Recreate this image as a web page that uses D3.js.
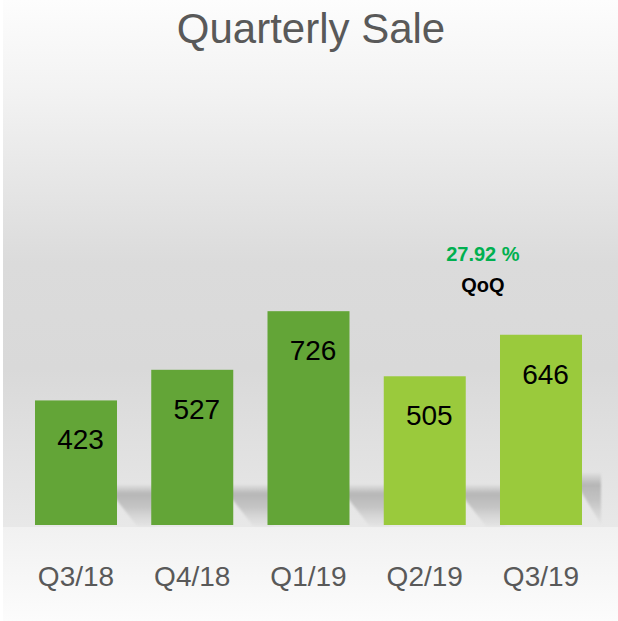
<!DOCTYPE html>
<html>
<head>
<meta charset="utf-8">
<script src="https://cdn.jsdelivr.net/npm/d3@7"></script>
<style>
  html, body { margin: 0; padding: 0; background: #ffffff; }
  svg { display: block; }
</style>
</head>
<body>
<svg id="chart" width="618" height="621"></svg>
<script>
const categories = ["Q3/18", "Q4/18", "Q1/19", "Q2/19", "Q3/19"];
const sales = [423, 527, 726, 505, 646];
const barGroup = ["past", "past", "past", "recent", "recent"];
const chartTitle = "Quarterly Sale";
const growthText = ["27.92 %", "QoQ"];

const W = 618, H = 621;
const svg = d3.select("#chart");
const defs = svg.append("defs");

// background gradients
const bg = defs.append("linearGradient").attr("id", "bg").attr("x1", 0).attr("y1", 0).attr("x2", 0).attr("y2", 1);
bg.append("stop").attr("offset", "0%").attr("stop-color", "#fdfdfd");
bg.append("stop").attr("offset", "18%").attr("stop-color", "#f2f2f2");
bg.append("stop").attr("offset", "50%").attr("stop-color", "#dbdbdb");
bg.append("stop").attr("offset", "70%").attr("stop-color", "#d9d9d9");
bg.append("stop").attr("offset", "100%").attr("stop-color", "#e8e8e8");

const bg2 = defs.append("linearGradient").attr("id", "bg2").attr("x1", 0).attr("y1", 0).attr("x2", 0).attr("y2", 1);
bg2.append("stop").attr("offset", "0%").attr("stop-color", "#f1f1f1");
bg2.append("stop").attr("offset", "100%").attr("stop-color", "#fcfcfc");

const sh = defs.append("linearGradient").attr("id", "sh")
  .attr("gradientUnits", "objectBoundingBox")
  .attr("x1", 0).attr("y1", 0).attr("x2", 0).attr("y2", 1);
sh.append("stop").attr("offset", "0%").attr("stop-color", "#b4b4b4").attr("stop-opacity", 0.1);
sh.append("stop").attr("offset", "22%").attr("stop-color", "#b4b4b4").attr("stop-opacity", 0.95);
sh.append("stop").attr("offset", "55%").attr("stop-color", "#bababa").attr("stop-opacity", 0.75);
sh.append("stop").attr("offset", "100%").attr("stop-color", "#d0d0d0").attr("stop-opacity", 0.2);

defs.append("filter").attr("id", "blur").attr("x", "-10%").attr("y", "-20%").attr("width", "120%").attr("height", "140%")
  .append("feGaussianBlur").attr("stdDeviation", 1.2);

const baseY = 525;

svg.append("rect").attr("x", 3).attr("y", 0).attr("width", W - 3).attr("height", baseY + 2).attr("fill", "url(#bg)");
svg.append("rect").attr("x", 3).attr("y", baseY + 2).attr("width", W - 3).attr("height", H - baseY - 2).attr("fill", "url(#bg2)");

// scales
const x = d3.scaleBand().domain(categories).range([35, 582]).paddingInner(0.2946).paddingOuter(0);
const y = d3.scaleLinear().domain([0, 1000]).range([baseY, baseY - 294.5]);

const data = categories.map((c, i) => ({ cat: c, value: sales[i], group: barGroup[i], last: i === categories.length - 1 }));
const color = d3.scaleOrdinal().domain(["past", "recent"]).range(["#63a537", "#9aca3c"]);

// floor shadows (cast to the right of each bar)
svg.append("g").selectAll("path").data(data).join("path")
  .attr("d", d => {
    const xr = x(d.cat) + x.bandwidth();
    const ext = d.last ? 19 : 40;
    const top = baseY - (d.last ? 52 : 40);
    return `M${xr - 12},${top} L${xr + ext},${top} L${xr + ext},${baseY + 1} L${xr + 20},${baseY + 1} Z`;
  })
  .attr("fill", "url(#sh)")
  .attr("filter", "url(#blur)");

// bars
svg.append("g").selectAll("rect").data(data).join("rect")
  .attr("x", d => x(d.cat))
  .attr("y", d => y(d.value))
  .attr("width", x.bandwidth())
  .attr("height", d => baseY - y(d.value))
  .attr("fill", d => color(d.group));

// value labels
svg.append("g").selectAll("text").data(data).join("text")
  .attr("x", d => x(d.cat) + x.bandwidth() / 2 + 4.5)
  .attr("y", d => y(d.value) + 49)
  .attr("text-anchor", "middle")
  .attr("font-family", "'Liberation Sans', Arial, sans-serif")
  .attr("font-size", 28)
  .attr("fill", "#000000")
  .text(d => d.value);

// category axis
const xAxis = d3.axisBottom(x).tickSize(0).tickPadding(0);
const axG = svg.append("g").attr("transform", `translate(0,${baseY})`).call(xAxis);
axG.select(".domain").remove();
axG.selectAll("text")
  .attr("y", 61)
  .attr("dy", 0)
  .attr("font-family", "'Liberation Sans', Arial, sans-serif")
  .attr("font-size", 28)
  .attr("fill", "#595959");

// title
svg.append("text")
  .attr("x", 311)
  .attr("y", 43)
  .attr("text-anchor", "middle")
  .attr("font-family", "'Liberation Sans', Arial, sans-serif")
  .attr("font-size", 42)
  .attr("fill", "#595959")
  .text(chartTitle);

// QoQ annotation, centered between last two bars
const ax = (x(categories[3]) + x(categories[4]) + x.bandwidth()) / 2;
const topRef = y(sales[4]);
svg.append("text")
  .attr("x", ax).attr("y", topRef - 74)
  .attr("text-anchor", "middle")
  .attr("font-family", "'Liberation Sans', Arial, sans-serif")
  .attr("font-weight", "bold")
  .attr("font-size", 20)
  .attr("fill", "#00b050")
  .text(growthText[0]);
svg.append("text")
  .attr("x", ax).attr("y", topRef - 43)
  .attr("text-anchor", "middle")
  .attr("font-family", "'Liberation Sans', Arial, sans-serif")
  .attr("font-weight", "bold")
  .attr("font-size", 20)
  .attr("fill", "#000000")
  .text(growthText[1]);
</script>
</body>
</html>
